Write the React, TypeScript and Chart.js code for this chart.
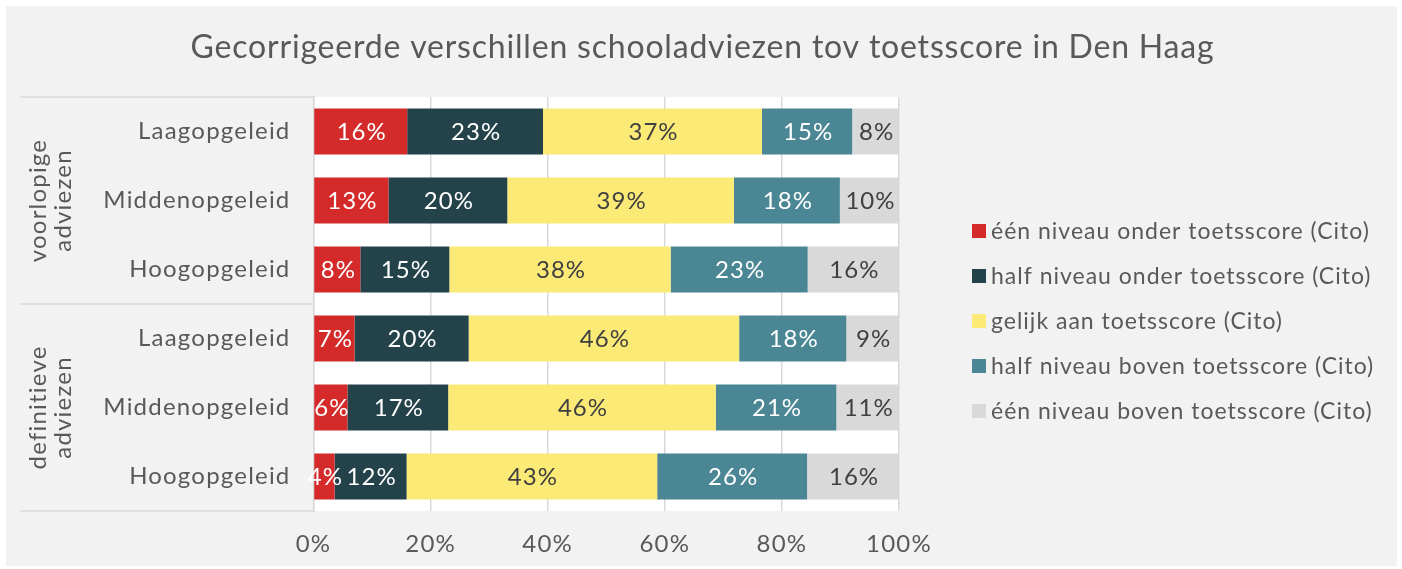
import React, { useEffect, useRef } from "react";
import { Chart, registerables } from "chart.js";

Chart.register(...registerables);

const TITLE = "Gecorrigeerde verschillen schooladviezen tov toetsscore in Den Haag";
const categories = ["Laagopgeleid", "Middenopgeleid", "Hoogopgeleid", "Laagopgeleid", "Middenopgeleid", "Hoogopgeleid"];
const groups = [
  { lines: ["voorlopige", "adviezen"], from: 0, to: 2 },
  { lines: ["definitieve", "adviezen"], from: 3, to: 5 },
];
const seriesNames = [
  "één niveau onder toetsscore (Cito)",
  "half niveau onder toetsscore (Cito)",
  "gelijk aan toetsscore (Cito)",
  "half niveau boven toetsscore (Cito)",
  "één niveau boven toetsscore (Cito)",
];
const eenOnder = [16.0, 12.8, 8.0, 7.0, 5.8, 3.6];
const halfOnder = [23.2, 20.3, 15.2, 19.5, 17.2, 12.3];
const gelijk = [37.4, 38.7, 37.8, 46.2, 45.7, 42.8];
const halfBoven = [15.4, 18.1, 23.4, 18.3, 20.6, 25.6];
const eenBoven = [8.0, 10.1, 15.6, 9.0, 10.7, 15.7];
const seriesValues = [eenOnder, halfOnder, gelijk, halfBoven, eenBoven];
const seriesColors = ["#d42a2a", "#24424a", "#fcea76", "#4a8694", "#d9d9d9"];
const labelColors = ["#ffffff", "#ffffff", "#404040", "#ffffff", "#404040"];
const xTicks = [0, 20, 40, 60, 80, 100];

const FONT = "Lato, 'Open Sans', sans-serif";
const TEXT = "#595959";
const SPACING = "1.2px";

export default function App() {
  const ref = useRef<HTMLCanvasElement>(null);
  useEffect(() => {
    const canvas = ref.current!;
    const spacing = {
      id: "spacing",
      beforeLayout(chart: any) {
        (chart.ctx as any).letterSpacing = SPACING;
      },
      beforeDraw(chart: any) {
        (chart.ctx as any).letterSpacing = SPACING;
        const { ctx, chartArea: a } = chart;
        ctx.save();
        ctx.fillStyle = "#ffffff";
        ctx.fillRect(a.left, a.top, a.right - a.left, a.bottom - a.top);
        ctx.fillStyle = TEXT;
        ctx.font = `32px ${FONT}`;
        (ctx as any).letterSpacing = "0.8px";
        ctx.textAlign = "center";
        ctx.textBaseline = "middle";
        ctx.fillText(TITLE, chart.width / 2 + 1, 42);
        ctx.restore();
      },
    };
    const valueLabels = {
      id: "valueLabels",
      afterDatasetsDraw(chart: any) {
        const { ctx } = chart;
        ctx.save();
        ctx.font = `24px ${FONT}`;
        (ctx as any).letterSpacing = "1px";
        ctx.textAlign = "center";
        ctx.textBaseline = "middle";
        chart.data.datasets.forEach((ds: any, i: number) => {
          const meta = chart.getDatasetMeta(i);
          meta.data.forEach((el: any, j: number) => {
            const v = ds.data[j];
            const cx = (el.x + el.base) / 2;
            ctx.fillStyle = labelColors[i];
            ctx.fillText(Math.round(v) + "%", cx + 1, el.y + 1);
          });
        });
        ctx.restore();
      },
    };
    const groupAxis = {
      id: "groupAxis",
      afterDraw(chart: any) {
        const { ctx, chartArea: a } = chart;
        const y = chart.scales.y;
        ctx.save();
        ctx.strokeStyle = "#d9d9d9";
        ctx.lineWidth = 1.5;
        const bounds = [-0.5, 2.5, 5.5];
        bounds.forEach((b) => {
          const py = y.getPixelForValue(b);
          ctx.beginPath();
          ctx.moveTo(14, py);
          ctx.lineTo(a.left, py);
          ctx.stroke();
        });
        ctx.fillStyle = TEXT;
        ctx.font = `24px ${FONT}`;
        (ctx as any).letterSpacing = "1.2px";
        ctx.textAlign = "center";
        ctx.textBaseline = "middle";
        groups.forEach((g) => {
          const top = y.getPixelForValue(g.from - 0.5);
          const bot = y.getPixelForValue(g.to + 0.5);
          const cy = (top + bot) / 2;
          ctx.save();
          ctx.translate(44.5, cy);
          ctx.rotate(-Math.PI / 2);
          g.lines.forEach((ln, k) => {
            ctx.fillText(ln, 0, (k - (g.lines.length - 1) / 2) * 25);
          });
          ctx.restore();
        });
        // legend
        const x0 = a.right + 73;
        ctx.textAlign = "left";
        ctx.font = `23px ${FONT}`;
        (ctx as any).letterSpacing = "1px";
        chart.data.datasets.forEach((ds: any, i: number) => {
          const cyL = 225 + i * 45;
          ctx.fillStyle = ds.backgroundColor;
          ctx.fillRect(x0, cyL - 7, 14, 14);
          ctx.fillStyle = TEXT;
          ctx.fillText(ds.label, x0 + 19, cyL + 1);
        });
        ctx.restore();
      },
    };
    const chart = new Chart(canvas, {
      type: "bar",
      data: {
        labels: categories,
        datasets: seriesValues.map((vals, i) => ({
          label: seriesNames[i],
          data: vals,
          backgroundColor: seriesColors[i],
          borderWidth: 0,
          barPercentage: 0.667,
          categoryPercentage: 1,
        })),
      },
      options: {
        indexAxis: "y",
        animation: false,
        responsive: false,
        maintainAspectRatio: false,
        layout: { padding: { left: 0, right: 498, top: 91, bottom: 0 } },
        plugins: {
          legend: { display: false },
          tooltip: { enabled: false },
          title: { display: false },
        },
        scales: {
          x: {
            stacked: true,
            min: 0,
            max: 100,
            afterBuildTicks(scale: any) {
              scale.ticks = xTicks.map((v) => ({ value: v }));
            },
            afterFit(scale: any) {
              scale.height = 55;
            },
            ticks: {
              color: TEXT,
              font: { family: FONT, size: 24 },
              padding: 19,
              callback: (v: any) => v + "%",
            },
            grid: { color: "#d9d9d9", lineWidth: 1.5, drawTicks: false },
            border: { display: false },
          },
          y: {
            stacked: true,
            afterFit(scale: any) {
              scale.width = 307.5;
            },
            ticks: {
              color: TEXT,
              font: { family: FONT, size: 24 },
              padding: 23,
            },
            grid: { display: false, drawTicks: false },
            border: { display: true, color: "#d9d9d9", width: 1.5 },
          },
        },
      },
      plugins: [spacing, valueLabels, groupAxis],
    });
    return () => chart.destroy();
  }, []);
  return (
    <div
      style={{
        position: "absolute",
        left: 6,
        top: 6,
        width: 1391,
        height: 560,
        background: "#f2f2f2",
      }}
    >
      <canvas ref={ref} width={1391} height={560} style={{ display: "block" }} />
    </div>
  );
}
